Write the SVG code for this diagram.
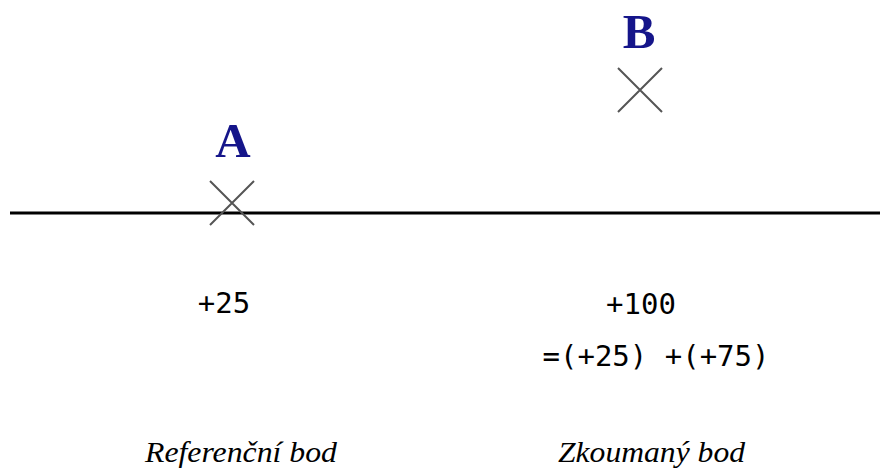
<svg xmlns="http://www.w3.org/2000/svg" width="880" height="472" viewBox="0 0 880 472">
<style>
.lbl{font-family:"Liberation Serif","Times New Roman",serif;font-weight:bold;font-size:49px;fill:#15158a;text-anchor:middle}
.mark{stroke:#555;stroke-width:2;fill:none}
.num{font-family:"DejaVu Sans Mono","Liberation Mono",monospace;font-size:29px;fill:#000;text-anchor:middle}
.cap{font-family:"Liberation Serif","Times New Roman",serif;font-style:italic;font-size:29px;fill:#000}
</style>
<rect width="880" height="472" fill="#fff"/>
<g id="axis"><line x1="10" y1="213" x2="880" y2="213" stroke="#000" stroke-width="3"/></g>
<g id="nodeA">
<text class="lbl" x="233" y="157">A</text>
<path class="mark" d="M210 181 L254 225 M254 181 L210 225"/>
<text class="num" x="224" y="313">+25</text>
<text class="cap" x="145" y="462" textLength="192" lengthAdjust="spacingAndGlyphs">Referenční bod</text>
</g>
<g id="nodeB">
<text class="lbl" x="639" y="48">B</text>
<path class="mark" d="M618 68 L662 112 M662 68 L618 112"/>
<text class="num" x="641" y="314">+100</text>
<text class="num" x="656" y="366">=(+25) +(+75)</text>
<text class="cap" x="558" y="462" textLength="187" lengthAdjust="spacingAndGlyphs">Zkoumaný bod</text>
</g>
</svg>
